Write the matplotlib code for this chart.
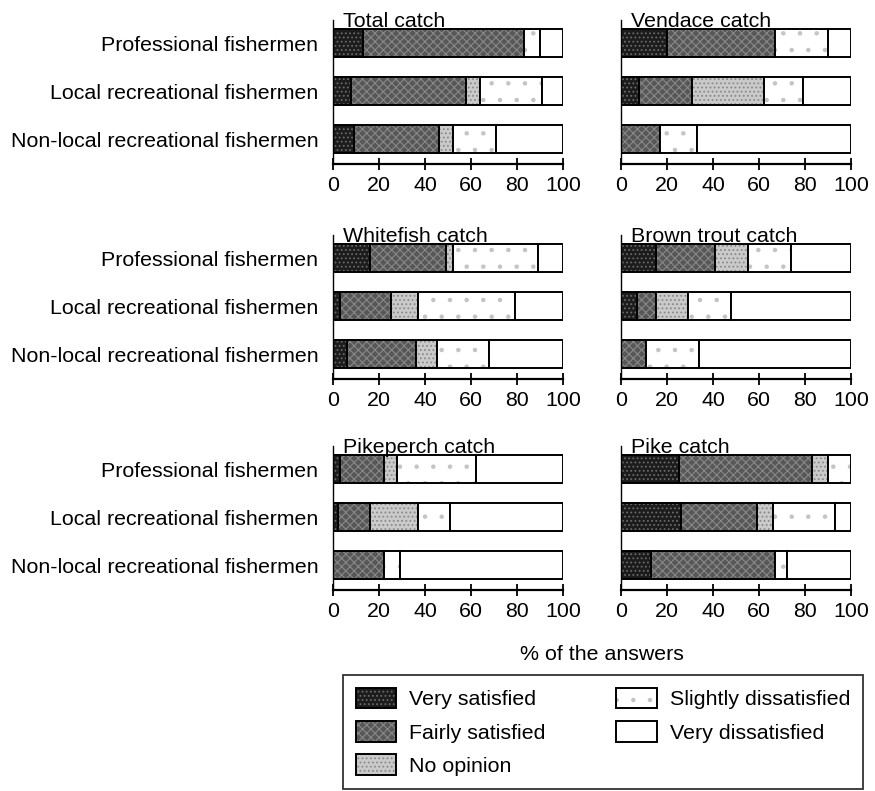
import matplotlib
matplotlib.use("Agg")
import matplotlib.pyplot as plt
import matplotlib.patches as patches
import numpy as np

plt.rcParams['font.family'] = ['Liberation Sans', 'DejaVu Sans']
plt.rcParams['hatch.linewidth'] = 0.8

groups = ["Professional fishermen",
          "Local recreational fishermen",
          "Non-local recreational fishermen"]
answers = ["Very satisfied", "Fairly satisfied", "No opinion",
           "Slightly dissatisfied", "Very dissatisfied"]
titles = ["Total catch", "Vendace catch", "Whitefish catch",
          "Brown trout catch", "Pikeperch catch", "Pike catch"]

# % of answers, rows = groups, columns = answers
total = [[13, 70, 0, 7, 10], [8, 50, 6, 27, 9], [9, 37, 6, 19, 29]]
vendace = [[20, 47, 0, 23, 10], [8, 23, 31, 17, 21], [0, 17, 0, 16, 67]]
whitefish = [[16, 33, 3, 37, 11], [3, 22, 12, 42, 21], [6, 30, 9, 23, 32]]
brown_trout = [[15, 26, 14, 19, 26], [7, 8, 14, 19, 52], [0, 11, 0, 23, 66]]
pikeperch = [[3, 19, 6, 34, 38], [2, 14, 21, 14, 49], [0, 22, 0, 7, 71]]
pike = [[25, 58, 7, 10, 0], [26, 33, 7, 27, 7], [13, 54, 0, 5, 28]]
panels = [total, vendace, whitefish, brown_trout, pikeperch, pike]

# fill colour, hatch, hatch colour per answer
styles = [("#1c1c1c", "....", "#6a6a6a"),
          ("#575757", "xxxx", "#888888"),
          ("#cacaca", "....", "#8a8a8a"),
          ("#ffffff", ".", "#c4c4c4"),
          ("#ffffff", None, "#ffffff")]

W, H = 875, 791
fig = plt.figure(figsize=(W / 100, H / 100), dpi=100)
fs = 15.4

col_x = [333, 621]
row_top = [20, 235, 446]
ax_w, ax_h = 230, 144

for i, (name, data) in enumerate(zip(titles, panels)):
    r, c = divmod(i, 2)
    ax = fig.add_axes([col_x[c] / W, 1 - (row_top[r] + ax_h) / H, ax_w / W, ax_h / H])
    data = np.array(data, dtype=float)
    left = np.zeros(len(groups))
    y = np.arange(len(groups))
    for k, (fc, hatch, hc) in enumerate(styles):
        vals = data[:, k]
        m = vals > 0
        ax.barh(y[m], vals[m], left=left[m], height=0.6, color=fc,
                hatch=hatch, edgecolor=hc, linewidth=0)
        ax.barh(y[m], vals[m], left=left[m], height=0.6, fill=False,
                edgecolor="black", linewidth=1.4)
        left += vals
    ax.set_xlim(0, 100)
    ax.set_ylim(2.52, -0.48)
    ax.set_xticks([0, 20, 40, 60, 80, 100])
    ax.tick_params(axis='x', direction='inout', length=9, width=1.3,
                   labelsize=fs, pad=4)
    ax.set_yticks(y)
    if c == 0:
        ax.set_yticklabels(groups, fontsize=fs)
        ax.tick_params(axis='y', length=0, pad=10.5)
    else:
        ax.set_yticklabels([])
        ax.tick_params(axis='y', length=0)
    for s in ['top', 'right']:
        ax.spines[s].set_visible(False)
    ax.spines['bottom'].set_linewidth(1.6)
    ax.spines['left'].set_linewidth(1.0)
    ax.text(4.5, -0.33, name, fontsize=fs, va='baseline', ha='left')

fig.text(602 / W, 1 - 655 / H, "% of the answers", fontsize=fs,
         ha='center', va='center')

handles = []
for fc, hatch, hc in styles:
    p1 = patches.Patch(facecolor=fc, hatch=hatch, edgecolor=hc, linewidth=0)
    p2 = patches.Patch(fill=False, edgecolor="black", linewidth=1.4)
    handles.append((p1, p2))

leg = fig.legend(handles, answers, ncol=2, loc='upper left',
                 bbox_to_anchor=(343 / W, 1 - 675 / H), borderaxespad=0,
                 fontsize=fs, frameon=True, fancybox=False,
                 handlelength=1.9, handleheight=1.1, handletextpad=0.6,
                 labelspacing=0.55, columnspacing=3.3, borderpad=0.6)
leg.get_frame().set_edgecolor("black")
leg.get_frame().set_linewidth(1.3)

fig.savefig("out.png", dpi=100)
